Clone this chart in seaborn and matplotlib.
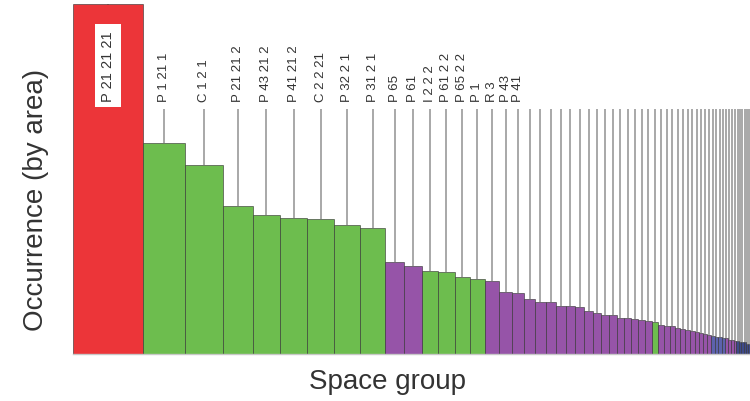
import numpy as np
import pandas as pd
import matplotlib
matplotlib.use("Agg")
import matplotlib.pyplot as plt
import seaborn as sns

# Relative occurrence per space group, expressed as the side of a square-ish
# block (height = width), so the block area scales with occurrence.
heights = [
    100.0, 60.4, 54.1, 42.2, 39.7, 38.8, 38.6, 37.0, 36.0,
    26.4, 25.2, 23.8, 23.5, 21.9, 21.4, 20.8, 17.8, 17.4,
    15.7, 15.0, 14.8, 13.8, 13.6, 13.4, 12.4, 11.6, 11.2, 11.1,
    10.4, 10.3, 10.1, 9.6, 9.5, 9.1, 8.3, 8.1, 7.9, 7.4,
    7.1, 7.0, 6.7, 6.2, 5.9, 5.7, 5.5, 5.2, 5.0, 4.8,
    4.7, 4.5, 4.1, 3.9, 3.8, 3.6, 3.4, 3.4, 3.3, 3.0, 2.9,
]

# Colour class of each block
classes = (
    ["red"]
    + ["green"] * 8
    + ["purple"] * 2
    + ["green"] * 4
    + ["purple"] * 18
    + ["green"]
    + ["purple"] * 11
    + ["blue"] * 4
    + ["purple"] * 4
    + ["navy"] * 6
)

# Names shown above the most common groups
labels = [
    "P 21 21 21", "P 1 21 1", "C 1 2 1", "P 21 21 2", "P 43 21 2",
    "P 41 21 2", "C 2 2 21", "P 32 2 1", "P 31 2 1", "P 65", "P 61",
    "I 2 2 2", "P 61 2 2", "P 65 2 2", "P 1", "R 3", "P 43", "P 41",
]

palette = {
    "red": "#ec3539",
    "green": "#6dbd4e",
    "purple": "#9654a8",
    "blue": "#5d62ad",
    "navy": "#3e4a8a",
}

edges = np.concatenate([[0.0], np.cumsum(heights)])
centers = (edges[:-1] + edges[1:]) / 2
df = pd.DataFrame({"center": centers, "height": heights, "cls": classes})

sns.set_style("white")
plt.rcParams["font.family"] = ["Liberation Sans", "DejaVu Sans"]

fig = plt.figure(figsize=(7.5, 4.02), dpi=100)
ax = fig.add_axes([73 / 750, (402 - 355) / 402, 677 / 750, 350 / 402])

label_base = 72.3
line_top = 70.0

# leader lines from each block up to its name
ax.vlines(centers, df["height"], line_top, color="#9a9a9a", lw=1.2, zorder=1)

sns.barplot(
    data=df, x="center", y="height", hue="cls", hue_order=list(palette),
    palette=palette, native_scale=True, dodge=False, saturation=1,
    edgecolor=(0.2, 0.2, 0.2, 0.6), linewidth=0.7, legend=False,
    errorbar=None, ax=ax, zorder=2,
)

# each block is as wide as it is tall: widen bars to span their own bin
for patch in ax.patches:
    cx = patch.get_x() + patch.get_width() / 2
    i = int(np.argmin(np.abs(centers - cx)))
    patch.set_x(edges[i])
    patch.set_width(edges[i + 1] - edges[i])

for i, name in enumerate(labels):
    kw = dict(rotation=90, ha="center", va="bottom", fontsize=9.5,
              color="#333333", zorder=4)
    if i == 0:
        kw["fontsize"] = 10.5
        kw["bbox"] = dict(boxstyle="square,pad=0.4", fc="white", ec="none")
    ax.text(centers[i], label_base, name, **kw)

ax.set_xlim(0, edges[-1])
ax.set_ylim(0, 100)
ax.set_xticks([])
ax.set_yticks([])
for side in ["left", "top", "right"]:
    ax.spines[side].set_visible(False)
ax.spines["bottom"].set_color("#c8c8c8")
ax.spines["bottom"].set_linewidth(1.0)

ax.set_xlabel("Space group", fontsize=20, color="#333333")
ax.set_ylabel("Occurrence (by area)", fontsize=20, color="#333333")
ax.xaxis.set_label_coords(0.464, -0.04)
ax.yaxis.set_label_coords(-0.036, 0.443)

fig.savefig("out.png", dpi=100)
